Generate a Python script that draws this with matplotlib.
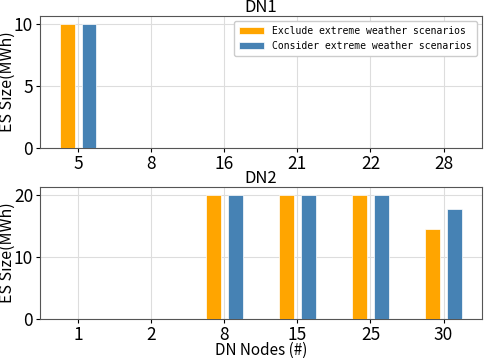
import numpy as np
import matplotlib
matplotlib.use("Agg")
import matplotlib.pyplot as plt

plt.rcParams["font.family"] = ["Noto Sans CJK SC", "DejaVu Sans"]

dn1_nodes = ["5", "8", "16", "21", "22", "28"]
dn1_exclude = [10, 0, 0, 0, 0, 0]
dn1_consider = [10, 0, 0, 0, 0, 0]

dn2_nodes = ["1", "2", "8", "15", "25", "30"]
dn2_exclude = [0, 0, 20, 20, 20, 14.5]
dn2_consider = [0, 0, 20, 20, 20, 17.7]

fig, axes = plt.subplots(2, 1, figsize=(4.84, 3.58), dpi=100)

panels = [
    (axes[0], "DN1", dn1_nodes, dn1_exclude, dn1_consider, [0, 5, 10]),
    (axes[1], "DN2", dn2_nodes, dn2_exclude, dn2_consider, [0, 10, 20]),
]

for ax, title, nodes, excl, cons, yticks in panels:
    x = np.arange(len(nodes))
    ax.bar(x - 0.15, excl, width=0.2, color="orange", edgecolor="white",
           linewidth=0.5, label="Exclude extreme weather scenarios", zorder=3)
    ax.bar(x + 0.15, cons, width=0.2, color="steelblue", edgecolor="white",
           linewidth=0.5, label="Consider extreme weather scenarios", zorder=3)
    ax.set_xticks(x)
    ax.set_xticklabels(nodes)
    ax.set_yticks(yticks)
    ax.set_xlim(-0.52, 5.52)
    ax.set_ylim(0, yticks[-1] * 1.06)
    ax.set_title(title, fontsize=12, pad=1)
    ax.set_ylabel("ES Size(MWh)", fontsize=11.5)
    ax.yaxis.set_label_coords(-0.056, 0.5)
    ax.tick_params(labelsize=12.5, length=3, pad=2)
    ax.grid(True, color="#dddddd", linewidth=0.8, zorder=0)
    for s in ax.spines.values():
        s.set_color("#555555")

axes[0].legend(loc="upper right", prop={"family": "DejaVu Sans Mono", "size": 7},
               handlelength=2.6, borderpad=0.5, framealpha=1)
axes[1].set_xlabel("DN Nodes (#)", fontsize=11, labelpad=-1)

fig.subplots_adjust(left=0.083, right=0.995, top=0.955, bottom=0.11, hspace=0.3)
fig.savefig("out.png", dpi=100)
